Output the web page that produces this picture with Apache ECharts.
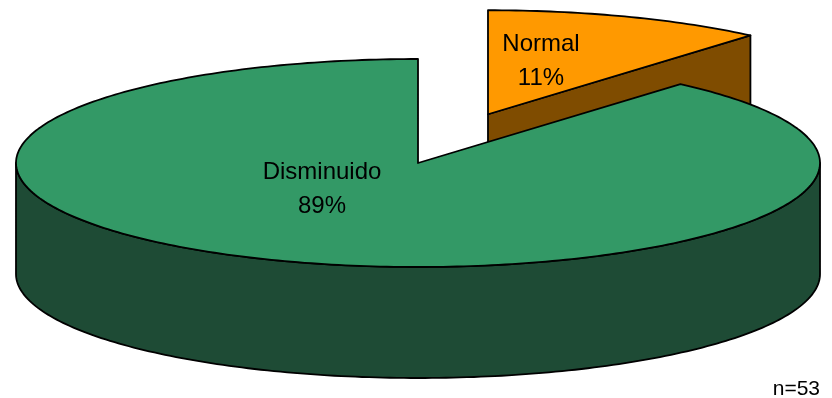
<!DOCTYPE html>
<html>
<head>
<meta charset="utf-8">
<script src="https://cdn.jsdelivr.net/npm/echarts@6/dist/echarts.min.js"></script>
<style>
  html, body { margin: 0; padding: 0; background: #fff; }
  #chart { width: 832px; height: 398px; }
</style>
</head>
<body>
<div id="chart"></div>
<script>
// slices go clockwise from 12 o'clock
const categories = ["Normal", "Disminuido"];
const counts = [6, 47];
const sampleSize = 53;

const topColors = ["#ff9900", "#339966"];
const sideColors = ["#7f4c00", "#1e4b35"];
const exploded = [0.5, 0];
const labelShift = [[53, -53], [-96, 26]];

// flattened pie: centre, radii of the top ellipse, thickness
const pie = { cx: 418, cy: 163, rx: 402, ry: 104, depth: 111 };

const total = counts.reduce((a, b) => a + b, 0);
const starts = [];
let acc = 0;
counts.forEach((v) => {
  starts.push((acc / total) * 360);
  acc += v;
});

// back slices first
const order = exploded
  .map((e, i) => ({ i, y: -e * Math.cos(((starts[i] + (counts[i] / total) * 180) * Math.PI) / 180) }))
  .sort((a, b) => a.y - b.y)
  .map((o) => o.i);

function rad(d) {
  return (d * Math.PI) / 180;
}

function renderSlice(params, api) {
  const i = params.dataIndex;
  const a0 = starts[i];
  const a1 = a0 + (api.value(0) / total) * 360;
  const mid = rad((a0 + a1) / 2);
  const ox = pie.cx + exploded[i] * pie.rx * Math.sin(mid);
  const oy = pie.cy - exploded[i] * pie.ry * Math.cos(mid);
  const pt = (deg, r, h) => [
    ox + pie.rx * r * Math.sin(rad(deg)),
    oy - pie.ry * r * Math.cos(rad(deg)) + h * pie.depth,
  ];
  const arc = (from, to, h) => {
    const pts = [];
    const n = Math.max(2, Math.ceil(Math.abs(to - from)));
    for (let k = 0; k <= n; k++) pts.push(pt(from + ((to - from) * k) / n, 1, h));
    return pts;
  };
  const base = order.indexOf(i) * 10;
  const line = { stroke: "#000", lineWidth: 1.8, lineJoin: "round" };
  const children = [];

  // radial walls facing the viewer
  const wall = (deg) => ({
    type: "polygon",
    z2: base + 1,
    shape: { points: [pt(deg, 0, 0), pt(deg, 1, 0), pt(deg, 1, 1), pt(deg, 0, 1)] },
    style: Object.assign({ fill: sideColors[i] }, line),
  });
  if (Math.sin(rad(a0)) < -1e-6) children.push(wall(a0));
  if (Math.sin(rad(a1)) > 1e-6) children.push(wall(a1));

  // curved outer side, front half only
  const s0 = Math.max(a0, 90);
  const s1 = Math.min(a1, 270);
  if (s1 > s0) {
    children.push({
      type: "polygon",
      z2: base + 2,
      shape: { points: arc(s0, s1, 0).concat(arc(s1, s0, 1)) },
      style: Object.assign({ fill: sideColors[i] }, line),
    });
  }

  // top face
  children.push({
    type: "polygon",
    z2: base + 3,
    shape: { points: [pt(a0, 0, 0)].concat(arc(a0, a1, 0)) },
    style: Object.assign({ fill: topColors[i] }, line),
  });

  const pct = Math.round((api.value(0) / total) * 100);
  children.push({
    type: "text",
    z2: 100,
    style: {
      text: categories[i] + "\n" + pct + "%",
      x: ox + labelShift[i][0],
      y: oy + labelShift[i][1],
      textAlign: "center",
      textVerticalAlign: "middle",
      font: '24px "Liberation Sans", Arial, sans-serif',
      lineHeight: 34,
      fill: "#000",
    },
  });

  return { type: "group", children };
}

const chart = echarts.init(document.getElementById("chart"));
chart.setOption({
  animation: false,
  series: [
    {
      type: "custom",
      coordinateSystem: "none",
      renderItem: renderSlice,
      data: categories.map((name, i) => ({ name, value: [counts[i]] })),
    },
  ],
  graphic: [
    {
      type: "text",
      z: 10,
      style: {
        text: "n=" + sampleSize,
        x: 820,
        y: 389,
        textAlign: "right",
        textVerticalAlign: "middle",
        font: '21px "Liberation Sans", Arial, sans-serif',
        fill: "#000",
      },
    },
  ],
});
</script>
</body>
</html>
